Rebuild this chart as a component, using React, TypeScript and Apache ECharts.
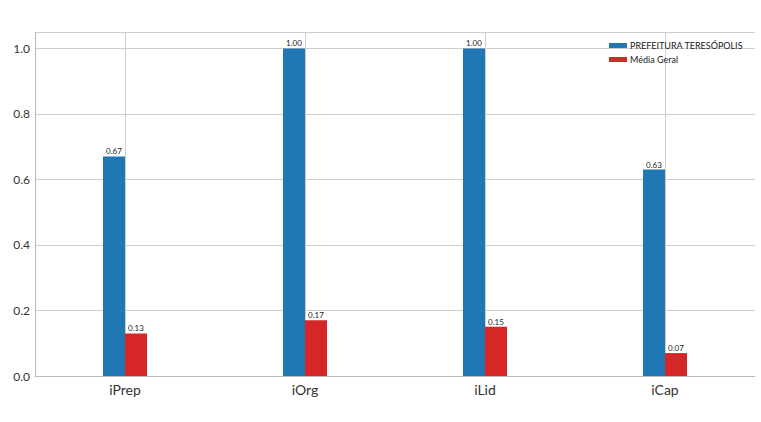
import * as echarts from 'echarts';
import { useEffect, useRef } from 'react';

const categories = ['iPrep', 'iOrg', 'iLid', 'iCap'];
const prefeituraValues = [0.67, 1.0, 1.0, 0.63];
const mediaValues = [0.13, 0.17, 0.15, 0.07];
const yTicks = [0, 0.2, 0.4, 0.6, 0.8, 1.0];

const font = 'Lato, "Noto Sans", sans-serif';

export default function App() {
  const container = useRef<HTMLDivElement>(null);

  useEffect(() => {
    const element = container.current;
    if (!element) return undefined;
    const chart = echarts.init(element, undefined, { renderer: 'svg' });

    const barLabel = {
      show: true,
      position: 'top',
      distance: 1,
      fontSize: 8,
      color: '#222',
      fontFamily: font,
      formatter: (p: { value: number }) => p.value.toFixed(2),
    };

    chart.setOption({
      animation: false,
      grid: { left: 35, right: 6, top: 32, bottom: 46 },
      legend: {
        orient: 'vertical',
        left: 604,
        top: 36,
        itemWidth: 18,
        itemHeight: 5,
        itemGap: 5,
        icon: 'rect',
        textStyle: { fontSize: 9, color: '#222', fontFamily: font, padding: [0, 0, 0, -2] },
        data: ['PREFEITURA TERESÓPOLIS', 'Média Geral'],
      },
      xAxis: {
        type: 'category',
        data: categories,
        boundaryGap: true,
        axisLine: { show: true, lineStyle: { color: '#bbb' } },
        axisTick: { show: false, alignWithLabel: true },
        axisLabel: { fontSize: 14, color: '#333', fontFamily: font, margin: 6 },
        splitLine: { show: true, alignWithLabel: true, lineStyle: { color: '#cfcfcf' } },
      },
      yAxis: {
        type: 'value',
        min: 0,
        max: 1.05,
        interval: 0.2,
        axisLine: { show: true, lineStyle: { color: '#bbb' } },
        axisTick: { show: false },
        axisLabel: {
          fontSize: 12,
          color: '#333',
          fontFamily: font,
          margin: 5,
          formatter: (v: number) => (yTicks.some((t) => Math.abs(t - v) < 1e-6) ? v.toFixed(1) : ''),
        },
        splitLine: { show: true, lineStyle: { color: '#cfcfcf' } },
      },
      series: [
        {
          name: 'PREFEITURA TERESÓPOLIS',
          type: 'bar',
          data: prefeituraValues,
          barWidth: 22,
          barGap: '0%',
          itemStyle: { color: '#1f77b4' },
          label: barLabel,
        },
        {
          name: 'Média Geral',
          type: 'bar',
          data: mediaValues,
          barWidth: 22,
          itemStyle: { color: '#d62728' },
          label: barLabel,
        },
      ],
    });

    return () => chart.dispose();
  }, []);

  return (
    <div
      ref={container}
      style={{ position: 'absolute', left: 0, top: 0, width: 761, height: 422, background: '#fff' }}
    />
  );
}
